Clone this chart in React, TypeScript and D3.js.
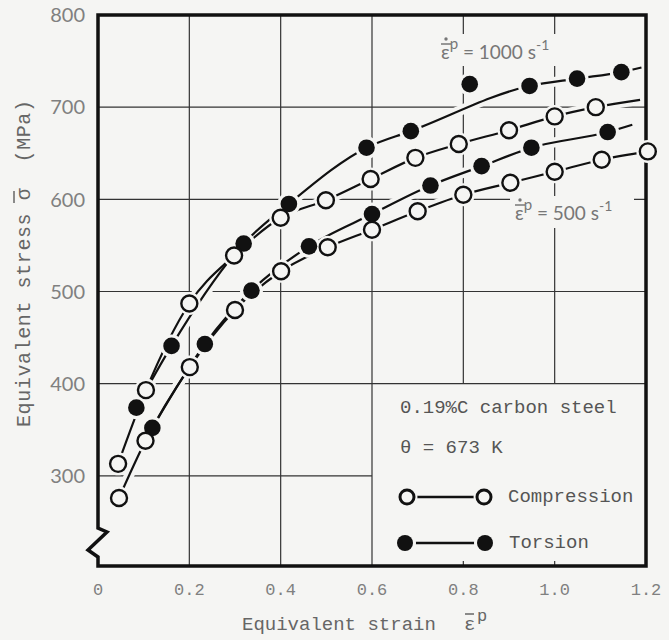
import { useEffect, useRef } from "react";
import * as d3 from "d3";

// axis ticks
const xTicks = [0, 0.2, 0.4, 0.6, 0.8, 1.0, 1.2];
const xTickLabels = ["0", "0.2", "0.4", "0.6", "0.8", "1.0", "1.2"];
const yTicks = [300, 400, 500, 600, 700, 800];

// [equivalent strain, equivalent stress MPa]
const torsion1000: [number, number][] = [
  [0.084, 374], [0.161, 441], [0.319, 552], [0.418, 595], [0.588, 656],
  [0.685, 674], [0.945, 723], [1.049, 731], [1.146, 738],
];
const torsion1000Outlier: [number, number][] = [[0.814, 725]];
const compression1000: [number, number][] = [
  [0.044, 313], [0.105, 393], [0.2, 487], [0.298, 539], [0.4, 580],
  [0.499, 599], [0.597, 622], [0.695, 645], [0.79, 660], [0.9, 675],
  [1.0, 690], [1.09, 700],
];
const torsion500: [number, number][] = [
  [0.119, 352], [0.234, 443], [0.336, 501], [0.462, 549], [0.6, 584],
  [0.728, 615], [0.84, 636], [0.949, 656], [1.116, 673],
];
const compression500: [number, number][] = [
  [0.046, 276], [0.104, 338], [0.201, 418], [0.3, 480], [0.401, 522],
  [0.503, 548], [0.6, 567], [0.7, 587], [0.8, 605], [0.903, 618],
  [1.0, 630], [1.103, 643], [1.204, 652],
];
// where the drawn fit lines stop past the last point
const torsion1000End: [number, number] = [1.19, 743];
const compression1000End: [number, number] = [1.187, 708];
const torsion500End: [number, number] = [1.17, 681];

const W = 669;
const H = 640;
const BG = "#f5f5f3";
const MONO = "'Liberation Mono', 'DejaVu Sans Mono', monospace";
const SANS = "Lato, 'Liberation Sans', sans-serif";

function App() {
  const svgRef = useRef(null);

  useEffect(() => {
    const svg = d3.select(svgRef.current);
    svg.selectAll("*").remove();

    const x = d3.scaleLinear().domain([0, 1.2]).range([98, 646]);
    const y = d3.scaleLinear().domain([200, 800]).range([568, 15]);
    const left = x(0), right = x(1.2), top = y(800), bottom = 566;

    svg.append("rect").attr("width", W).attr("height", H).attr("fill", BG);

    // grid (legend box in lower right keeps its inside clear)
    const grid = svg.append("g").attr("stroke", "#333").attr("stroke-width", 1.2);
    [0.2, 0.4, 0.6, 0.8, 1.0].forEach((t) => {
      grid.append("line")
        .attr("x1", x(t)).attr("x2", x(t))
        .attr("y1", top).attr("y2", t > 0.6 ? y(400) : bottom);
      if (t > 0.6) {
        grid.append("line")
          .attr("x1", x(t)).attr("x2", x(t))
          .attr("y1", bottom).attr("y2", bottom - 5);
      }
    });
    [300, 400, 500, 600, 700].forEach((v) => {
      grid.append("line")
        .attr("x1", left).attr("x2", v < 400 ? x(0.6) : right)
        .attr("y1", y(v)).attr("y2", y(v));
    });

    // rate labels with paper behind them
    svg.append("rect").attr("x", 436).attr("y", 34).attr("width", 196).attr("height", 32).attr("fill", BG);
    svg.append("rect").attr("x", 510).attr("y", 196).attr("width", 124).attr("height", 32).attr("fill", BG);

    const rateLabel = (lx: number, ly: number, rate: string) => {
      const g = svg.append("g").attr("fill", "#777").attr("font-family", SANS);
      const t = g.append("text").attr("x", lx).attr("y", ly).attr("font-size", 19);
      t.append("tspan").text("ε");
      t.append("tspan").attr("dy", -10).attr("font-size", 15).text("p");
      t.append("tspan").attr("dy", 10).text(` = ${rate} s`);
      t.append("tspan").attr("dy", -9).attr("font-size", 14).text("-1");
      g.append("line").attr("x1", lx).attr("x2", lx + 10).attr("y1", ly - 15).attr("y2", ly - 15)
        .attr("stroke", "#777").attr("stroke-width", 1.5);
      g.append("circle").attr("cx", lx + 5).attr("cy", ly - 20).attr("r", 1.7);
    };
    rateLabel(441, 59, "1000");
    rateLabel(515, 220, "500");

    // fitted curves
    const line = d3.line<[number, number]>()
      .x((d) => x(d[0])).y((d) => y(d[1]))
      .curve(d3.curveMonotoneX);
    const curves = [
      [...torsion1000, torsion1000End],
      [...compression1000, compression1000End],
      [...torsion500, torsion500End],
      compression500,
    ];
    svg.append("g").selectAll("path").data(curves).join("path")
      .attr("d", (d) => line(d))
      .attr("fill", "none").attr("stroke", BG).attr("stroke-width", 10);
    svg.append("g").selectAll("path").data(curves).join("path")
      .attr("d", (d) => line(d))
      .attr("fill", "none").attr("stroke", "#111").attr("stroke-width", 2.2);

    // frame with the axis break at lower left
    svg.append("path")
      .attr("d", `M${left},${top} H${right} V${bottom} H${left} V557 L${left - 10},550 L${left + 9},532 L${left},528 Z`)
      .attr("fill", "none").attr("stroke", "#111").attr("stroke-width", 3.5)
      .attr("stroke-linejoin", "miter");

    // markers
    const filled = [...torsion1000, ...torsion1000Outlier, ...torsion500];
    const open = [...compression1000, ...compression500];
    svg.append("g").selectAll("circle").data([...filled, ...open]).join("circle")
      .attr("cx", (d) => x(d[0])).attr("cy", (d) => y(d[1])).attr("r", 11.5)
      .attr("fill", BG);
    svg.append("g").selectAll("circle").data(filled).join("circle")
      .attr("cx", (d) => x(d[0])).attr("cy", (d) => y(d[1])).attr("r", 8.3)
      .attr("fill", "#111");
    svg.append("g").selectAll("circle").data(open).join("circle")
      .attr("cx", (d) => x(d[0])).attr("cy", (d) => y(d[1])).attr("r", 8)
      .attr("fill", BG).attr("stroke", "#111").attr("stroke-width", 2.4);

    // y ticks
    svg.append("g").selectAll("text").data(yTicks).join("text")
      .attr("x", 85).attr("y", (d) => y(d)).attr("dy", "0.36em")
      .attr("text-anchor", "end").attr("font-family", SANS).attr("font-size", 20)
      .attr("fill", "#808080").text((d) => d);

    // x ticks
    svg.append("g").selectAll("text").data(xTicks).join("text")
      .attr("x", (d) => x(d)).attr("y", 595)
      .attr("text-anchor", "middle").attr("font-family", MONO).attr("font-size", 17)
      .attr("fill", "#808080").text((d, i) => xTickLabels[i]);

    // axis titles
    svg.append("text")
      .attr("x", 242).attr("y", 630)
      .attr("font-family", MONO).attr("font-size", 19).attr("fill", "#666")
      .text("Equivalent strain");
    svg.append("text")
      .attr("x", 464).attr("y", 630)
      .attr("font-family", MONO).attr("font-size", 19).attr("fill", "#666")
      .text("ε");
    svg.append("line").attr("x1", 465).attr("x2", 474).attr("y1", 614).attr("y2", 614)
      .attr("stroke", "#666").attr("stroke-width", 1.5);
    svg.append("text")
      .attr("x", 477).attr("y", 621)
      .attr("font-family", MONO).attr("font-size", 17).attr("fill", "#666")
      .text("p");

    svg.append("text")
      .attr("transform", "translate(30,427) rotate(-90)")
      .attr("font-family", MONO).attr("font-size", 20).attr("fill", "#666")
      .attr("textLength", 327).attr("lengthAdjust", "spacing")
      .attr("xml:space", "preserve")
      .text("Equivalent stress σ  (MPa)");
    svg.append("line").attr("x1", 14).attr("x2", 14).attr("y1", 191).attr("y2", 203)
      .attr("stroke", "#666").attr("stroke-width", 1.5);

    // legend
    const lg = svg.append("g").attr("font-family", MONO).attr("font-size", 19).attr("fill", "#555");
    lg.append("text").attr("x", 400).attr("y", 413).text("0.19%C carbon steel");
    lg.append("text").attr("x", 400).attr("y", 453).text("θ = 673 K");
    lg.append("text").attr("x", 508).attr("y", 502).text("Compression");
    lg.append("text").attr("x", 509).attr("y", 548).text("Torsion");
    svg.append("line").attr("x1", 407).attr("x2", 484).attr("y1", 497).attr("y2", 497)
      .attr("stroke", "#111").attr("stroke-width", 2.5);
    svg.append("line").attr("x1", 405).attr("x2", 485).attr("y1", 543).attr("y2", 543)
      .attr("stroke", "#111").attr("stroke-width", 2.5);
    svg.append("g").selectAll("circle").data([407, 484]).join("circle")
      .attr("cx", (d) => d).attr("cy", 497).attr("r", 10.5).attr("fill", BG);
    svg.append("g").selectAll("circle").data([407, 484]).join("circle")
      .attr("cx", (d) => d).attr("cy", 497).attr("r", 7)
      .attr("fill", BG).attr("stroke", "#111").attr("stroke-width", 3);
    svg.append("g").selectAll("circle").data([405, 485]).join("circle")
      .attr("cx", (d) => d).attr("cy", 543).attr("r", 11).attr("fill", BG);
    svg.append("g").selectAll("circle").data([405, 485]).join("circle")
      .attr("cx", (d) => d).attr("cy", 543).attr("r", 8).attr("fill", "#111");
  }, []);

  return (
    <svg
      ref={svgRef}
      width={W}
      height={H}
      viewBox={`0 0 ${W} ${H}`}
      style={{ position: "absolute", left: 0, top: 0, display: "block" }}
    ></svg>
  );
}

export default App;
